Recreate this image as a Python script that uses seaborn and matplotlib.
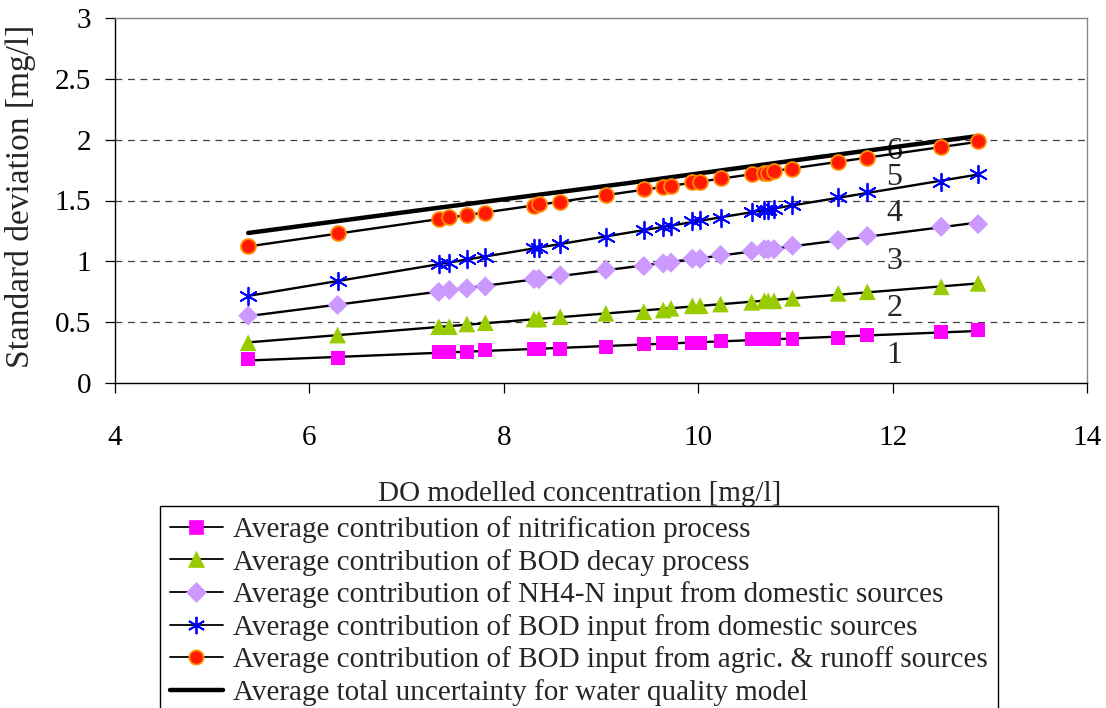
import numpy as np
import pandas as pd
import matplotlib
matplotlib.use("Agg")
import matplotlib.pyplot as plt
from matplotlib.lines import Line2D
from matplotlib.ticker import FuncFormatter
import seaborn as sns

# ---------------- data ----------------
do_conc = [5.37, 6.29, 7.33, 7.44, 7.62, 7.81, 8.31, 8.36, 8.58, 9.05,
           9.44, 9.64, 9.72, 9.94, 10.02, 10.23, 10.55, 10.68, 10.72, 10.78,
           10.97, 11.44, 11.74, 12.50, 12.88]

nitrification = [0.195, 0.208, 0.252, 0.252, 0.252, 0.269, 0.282, 0.282, 0.282, 0.298,
                 0.318, 0.326, 0.326, 0.326, 0.326, 0.345, 0.359, 0.359, 0.359, 0.359,
                 0.362, 0.372, 0.394, 0.419, 0.435]
bod_decay = [0.331, 0.394, 0.463, 0.463, 0.485, 0.496, 0.526, 0.526, 0.545, 0.573,
             0.586, 0.600, 0.614, 0.635, 0.635, 0.649, 0.663, 0.676, 0.676, 0.676,
             0.696, 0.737, 0.750, 0.791, 0.819]
nh4_domestic = [0.553, 0.641, 0.748, 0.764, 0.778, 0.794, 0.855, 0.855, 0.885, 0.931,
                0.961, 0.983, 0.989, 1.021, 1.021, 1.052, 1.085, 1.099, 1.099, 1.099,
                1.128, 1.175, 1.208, 1.284, 1.306]
bod_domestic = [0.715, 0.838, 0.975, 0.989, 1.019, 1.038, 1.112, 1.112, 1.142, 1.202,
                1.257, 1.279, 1.293, 1.331, 1.339, 1.353, 1.403, 1.422, 1.422, 1.432,
                1.460, 1.526, 1.572, 1.654, 1.715]
bod_agric = [1.126, 1.230, 1.345, 1.361, 1.380, 1.394, 1.454, 1.471, 1.487, 1.547,
             1.592, 1.608, 1.621, 1.654, 1.654, 1.682, 1.715, 1.728, 1.728, 1.745,
             1.761, 1.818, 1.851, 1.942, 1.986]

total_x = [5.37, 7.20, 9.26, 11.27, 12.88]
total_y = [1.233, 1.427, 1.641, 1.860, 2.030]

series_labels = [
    "Average contribution of nitrification process",
    "Average contribution of BOD decay process",
    "Average contribution of NH4-N input from domestic sources",
    "Average contribution of BOD input from domestic sources",
    "Average contribution of BOD input from agric. & runoff sources",
]
total_label = "Average total uncertainty for water quality model"
curve_numbers = ["1", "2", "3", "4", "5", "6"]

x_ticks = [4, 6, 8, 10, 12, 14]
y_ticks = [0, 0.5, 1, 1.5, 2, 2.5, 3]

# ---------------- style ----------------
sns.set_style("ticks")
plt.rcParams["font.family"] = ["Liberation Serif", "DejaVu Serif"]

W, H = 1106, 708
fig = plt.figure(figsize=(W / 100, H / 100), dpi=100)
ax = fig.add_axes([115 / W, 1 - 383 / H, (1087 - 115) / W, (383 - 18) / H])

styles = [
    dict(marker="s", s=100, color="#FF00FF", edgecolors="none", linewidths=0),
    dict(marker="^", s=145, color="#99CC00", edgecolors="none", linewidths=0),
    dict(marker="D", s=105, color="#CC99FF", edgecolors="none", linewidths=0),
    dict(marker=(6, 2, 0), s=160, color="#0000FF", linewidths=1.3),
    dict(marker="o", s=115, color="#FF1A00", edgecolors="#FF8C00", linewidths=1.3),
]
series = [nitrification, bod_decay, nh4_domestic, bod_domestic, bod_agric]

df = pd.DataFrame({"do": do_conc})
for lab, vals in zip(series_labels, series):
    df[lab] = vals

for lab, st in zip(series_labels, styles):
    st = dict(st)
    col = st.pop("color")
    mk = st.pop("marker")
    sk = dict(st, zorder=4, alpha=1)
    if mk == (6, 2, 0):
        sk = dict(zorder=4, alpha=1, s=st["s"], linewidths=st["linewidths"])
    sns.regplot(data=df, x="do", y=lab, ax=ax, ci=None, color=col, marker=mk,
                scatter_kws=sk,
                line_kws=dict(color="black", lw=1.7, zorder=3))

tot = pd.DataFrame({"x": total_x, "y": total_y})
sns.lineplot(data=tot, x="x", y="y", ax=ax, color="black", lw=3.2, zorder=3)

# curve numbers
num_pos_y = [0.23, 0.61, 1.00, 1.39, 1.69, 1.90]
for t, yy in zip(curve_numbers, num_pos_y):
    ax.text(12.02, yy, t, fontsize=23, ha="center", va="center", zorder=2)

# axes
ax.set_xlim(4, 14)
ax.set_ylim(0, 3)
ax.set_xticks(x_ticks)
ax.set_yticks(y_ticks)
ax.yaxis.set_major_formatter(FuncFormatter(lambda v, p: f"{v:g}"))
ax.tick_params(axis="both", labelsize=21, length=7, width=0.9, color="black",
               direction="out")
ax.tick_params(axis="x", pad=23)
ax.tick_params(axis="y", pad=10)
for t in ax.get_yticklabels() + ax.get_xticklabels():
    t.set_color("black")

ax.grid(False)
for yv in y_ticks[1:-1]:
    ax.axhline(yv, color="#404040", lw=0.9, ls=(0, (5.5, 4.5)), zorder=1)

ax.spines["left"].set_color("black")
ax.spines["bottom"].set_color("black")
ax.spines["top"].set_color("#888888")
ax.spines["right"].set_color("#888888")
for sp in ax.spines.values():
    sp.set_linewidth(1.0)
    sp.set_visible(True)

ax.set_xlabel("DO modelled concentration [mg/l]", fontsize=21)
ax.set_ylabel("Standard deviation [mg/l]", fontsize=24)
ax.xaxis.set_label_coords(0.478, -0.268)
ax.yaxis.set_label_coords(-0.081, 0.51)

# legend
handles = []
for lab, st in zip(series_labels, styles):
    mk = st["marker"]
    if mk == (6, 2, 0):
        h = Line2D([], [], color="black", lw=1.3, marker=mk, markersize=12.5,
                   markeredgecolor=st["color"], markeredgewidth=1.3)
    else:
        h = Line2D([], [], color="black", lw=1.3, marker=mk,
                   markersize=np.sqrt(st["s"]) * 0.95,
                   markerfacecolor=st["color"],
                   markeredgecolor=st.get("edgecolors", "none") if st.get("edgecolors") != "none" else st["color"],
                   markeredgewidth=st.get("linewidths", 0) or 0.5)
    handles.append(h)
handles.append(Line2D([], [], color="black", lw=3.2))

leg = fig.legend(handles, series_labels + [total_label], loc="upper left",
                 bbox_to_anchor=(160 / W, 1 - 506 / H), borderaxespad=0,
                 fontsize=21.0, frameon=True, fancybox=False, framealpha=1,
                 edgecolor="black", handlelength=1.8, handletextpad=0.35,
                 labelspacing=0.19, borderpad=0.35)
leg.get_frame().set_linewidth(1.0)

fig.savefig("out.png", dpi=100)
